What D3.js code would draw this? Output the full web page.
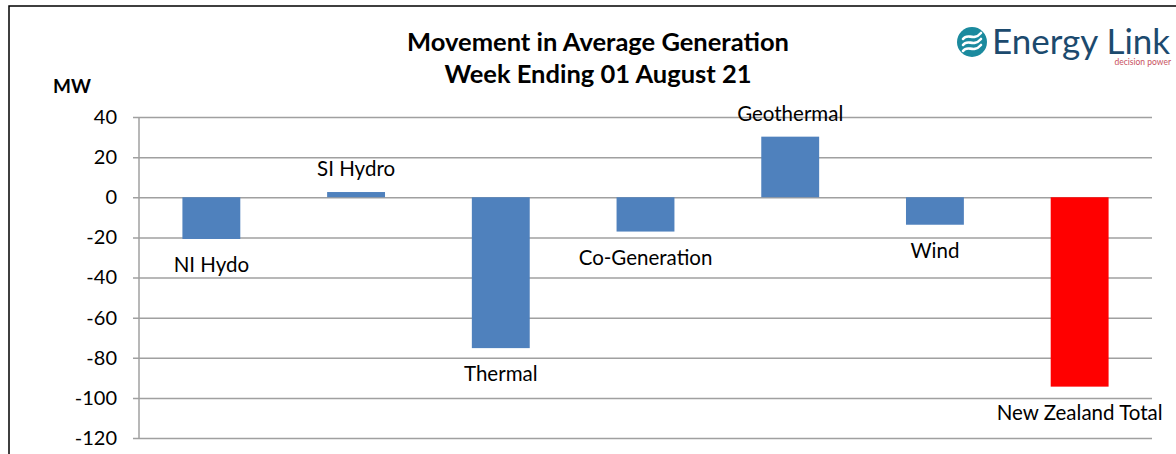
<!DOCTYPE html>
<html>
<head>
<meta charset="utf-8">
<script src="https://cdn.jsdelivr.net/npm/d3@7"></script>
<style>
  body { margin: 0; background: #fff; }
  text { font-family: Lato, "Open Sans", sans-serif; }
</style>
</head>
<body>
<svg id="chart" width="1176" height="454"></svg>
<script>
const categories = ["NI Hydo", "SI Hydro", "Thermal", "Co-Generation", "Geothermal", "Wind", "New Zealand Total"];
const movement = [-20.8, 2.6, -75.2, -17.1, 30.2, -13.7, -94.4];
const yTicks = [40, 20, 0, -20, -40, -60, -80, -100, -120];

const data = categories.map((c, i) => ({ name: c, value: movement[i] }));

const svg = d3.select("#chart");
const width = +svg.attr("width");
const height = +svg.attr("height");

// outer frame
svg.append("rect")
  .attr("x", 9).attr("y", 6)
  .attr("width", width + 20).attr("height", height + 20)
  .attr("fill", "none").attr("stroke", "#000").attr("stroke-width", 1.5);

const margin = { top: 117, left: 139, right: 24, bottom: 16 };
const innerWidth = width - margin.left - margin.right;

const x = d3.scaleBand()
  .domain(categories)
  .range([0, innerWidth])
  .paddingInner(0.6)
  .paddingOuter(0.3);

const y = d3.scaleLinear()
  .domain([-120, 40])
  .range([438 - margin.top, 0]);

const chart = svg.append("g")
  .attr("transform", `translate(${margin.left},${margin.top})`);

// gridlines + y axis
const yAxis = chart.append("g")
  .call(d3.axisLeft(y).tickValues(yTicks).tickSize(-innerWidth).tickPadding(0)
    .tickFormat(d => String(d))); // plain hyphen, like Excel
yAxis.select(".domain").remove();
yAxis.selectAll(".tick line")
  .attr("x1", -6)
  .attr("stroke", "#a0a0a0").attr("stroke-width", 1.5);
yAxis.selectAll(".tick text")
  .attr("x", -22)
  .attr("font-size", 20).attr("fill", "#000")
  .style("font-family", "Lato, 'Open Sans', sans-serif");

chart.append("line")
  .attr("x1", 0).attr("x2", 0)
  .attr("y1", y(40)).attr("y2", y(-120))
  .attr("stroke", "#a0a0a0").attr("stroke-width", 1.5);

// bars
chart.selectAll(".bar")
  .data(data)
  .enter().append("rect")
  .attr("class", "bar")
  .attr("x", d => x(d.name))
  .attr("width", x.bandwidth())
  .attr("y", d => y(Math.max(0, d.value)))
  .attr("height", d => Math.abs(y(d.value) - y(0)))
  .attr("fill", (d, i) => i === categories.length - 1 ? "#ff0000" : "#4f81bd");

// category labels at bar ends
chart.selectAll(".lbl")
  .data(data)
  .enter().append("text")
  .attr("class", "lbl")
  .attr("x", d => x(d.name) + x.bandwidth() / 2)
  .attr("y", d => d.value >= 0 ? y(d.value) - 23 : y(d.value) + 26)
  .attr("dy", "0.35em")
  .attr("text-anchor", "middle")
  .attr("font-size", 20.5)
  .text(d => d.name);

// titles
svg.append("text")
  .attr("x", 598).attr("y", 51)
  .attr("text-anchor", "middle")
  .attr("font-size", 25.5).attr("font-weight", "bold")
  .text("Movement in Average Generation");
svg.append("text")
  .attr("x", 598).attr("y", 83)
  .attr("text-anchor", "middle")
  .attr("font-size", 25.5).attr("font-weight", "bold")
  .text("Week Ending 01 August 21");
svg.append("text")
  .attr("x", 53).attr("y", 93)
  .attr("font-size", 19).attr("font-weight", "bold")
  .text("MW");

// logo
const logo = svg.append("g").attr("transform", "translate(972,42)");
logo.append("circle").attr("r", 15).attr("fill", "#1b8a9e");
[-6, 0, 6].forEach(o => {
  logo.append("path")
    .attr("d", `M-9,${o + 3} C-4,${o - 4} 1,${o + 6} 9,${o - 3}`)
    .attr("fill", "none").attr("stroke", "#fff").attr("stroke-width", 2.6)
    .attr("stroke-linecap", "round");
});
logo.append("text")
  .attr("x", 20).attr("y", 12)
  .attr("font-size", 35).attr("fill", "#1c4a6e")
  .text("Energy Link");
logo.append("text")
  .attr("x", 199).attr("y", 23)
  .attr("text-anchor", "end")
  .attr("font-size", 8.5).attr("fill", "#c8515e")
  .text("decision power");
</script>
</body>
</html>
